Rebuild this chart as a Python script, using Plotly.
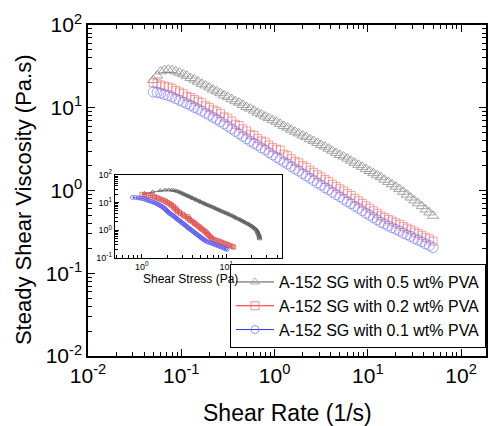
import plotly.graph_objects as go

# ---------------- data ----------------
shear_rate = [0.0501, 0.0550, 0.0603, 0.0661, 0.0724, 0.0794, 0.0871, 0.0955, 0.105, 0.115,
              0.126, 0.138, 0.151, 0.166, 0.182, 0.200, 0.219, 0.240, 0.263, 0.288,
              0.316, 0.347, 0.380, 0.417, 0.457, 0.501, 0.550, 0.603, 0.661, 0.724,
              0.794, 0.871, 0.955, 1.05, 1.15, 1.26, 1.38, 1.51, 1.66, 1.82,
              2.00, 2.19, 2.40, 2.63, 2.88, 3.16, 3.47, 3.80, 4.17, 4.57,
              5.01, 5.50, 6.03, 6.61, 7.24, 7.94, 8.71, 9.55, 10.5, 11.5,
              12.6, 13.8, 15.1, 16.6, 18.2, 20.0, 21.9, 24.0, 26.3, 28.8,
              31.6, 34.7, 38.0, 41.7, 45.7, 50.1]

visc_05 = [21.6, 24.5, 27.5, 28.5, 28.8, 28.5, 27.5, 26.6, 25.4, 24.3,
           22.9, 21.9, 20.7, 19.5, 18.6, 17.6, 16.6, 15.8, 15.0, 14.1,
           13.5, 12.7, 12.0, 11.5, 10.8, 10.2, 9.77, 9.23, 8.71, 8.32,
           7.85, 7.50, 7.08, 6.76, 6.38, 6.03, 5.75, 5.43, 5.13, 4.90,
           4.62, 4.42, 4.17, 3.98, 3.76, 3.55, 3.39, 3.20, 3.02, 2.85,
           2.69, 2.57, 2.43, 2.29, 2.16, 2.04, 1.93, 1.82, 1.72, 1.62,
           1.53, 1.45, 1.35, 1.27, 1.19, 1.11, 1.04, 0.966, 0.891, 0.822,
           0.759, 0.700, 0.646, 0.589, 0.543, 0.495]

visc_02 = [20.0, 19.5, 18.8, 18.2, 17.8, 17.2, 16.2, 15.5, 14.8, 13.8,
           13.3, 12.6, 12.0, 11.5, 10.6, 10.1, 9.44, 9.02, 8.51, 7.76,
           7.50, 6.92, 6.31, 6.10, 5.56, 5.25, 4.79, 4.62, 4.27, 3.98,
           3.85, 3.55, 3.31, 3.16, 3.09, 2.75, 2.63, 2.43, 2.26, 2.16,
           2.00, 1.91, 1.76, 1.66, 1.55, 1.46, 1.36, 1.29, 1.19, 1.12,
           1.05, 0.989, 0.923, 0.871, 0.804, 0.750, 0.700, 0.653, 0.610, 0.569,
           0.531, 0.495, 0.473, 0.447, 0.427, 0.407, 0.389, 0.367, 0.351, 0.335,
           0.316, 0.302, 0.288, 0.272, 0.260, 0.245]

visc_01 = [15.5, 15.3, 15.0, 14.5, 14.0, 13.5, 12.9, 12.3, 11.7, 11.2,
           10.7, 10.1, 9.66, 9.12, 8.61, 8.13, 7.67, 7.24, 6.76, 6.38,
           5.96, 5.56, 5.19, 4.84, 4.52, 4.22, 3.94, 3.72, 3.51, 3.27,
           3.09, 2.88, 2.69, 2.51, 2.37, 2.21, 2.09, 1.95, 1.82, 1.72,
           1.60, 1.50, 1.41, 1.32, 1.23, 1.16, 1.08, 1.02, 0.955, 0.891,
           0.841, 0.785, 0.733, 0.692, 0.646, 0.610, 0.569, 0.531, 0.501, 0.468,
           0.442, 0.412, 0.394, 0.372, 0.355, 0.339, 0.324, 0.305, 0.292, 0.279,
           0.263, 0.251, 0.240, 0.226, 0.216, 0.204]

series_names = ["A-152 SG with 0.5 wt% PVA",
                "A-152 SG with 0.2 wt% PVA",
                "A-152 SG with 0.1 wt% PVA"]

main_tick_vals = [0.01, 0.1, 1, 10, 100]
main_tick_text = ["10<sup>-2</sup>", "10<sup>-1</sup>", "10<sup>0</sup>",
                  "10<sup>1</sup>", "10<sup>2</sup>"]
inset_x_vals = [1, 10]
inset_x_text = ["10<sup>0</sup>", "10<sup>1</sup>"]
inset_y_vals = [0.1, 1, 10, 100]
inset_y_text = ["10<sup>-1</sup>", "10<sup>0</sup>", "10<sup>1</sup>", "10<sup>2</sup>"]

# ---------------- styles ----------------
FONT = "Liberation Sans, Arial, sans-serif"
styles = [
    dict(color="#808080", symbol="triangle-up-open", size=10, lw=0.7),
    dict(color="#ec6a6a", symbol="square-open", size=8, lw=0.6),
    dict(color="#6a6aff", symbol="circle-open", size=10, lw=0.6),
]
visc_all = [visc_05, visc_02, visc_01]

fig = go.Figure()

# main plot traces (markers)
for name, v, st in zip(series_names, visc_all, styles):
    fig.add_trace(go.Scatter(
        x=shear_rate, y=v, mode="markers", name=name, showlegend=False,
        marker=dict(symbol=st["symbol"], size=st["size"], color=st["color"],
                    line=dict(width=st["lw"], color=st["color"])),
        xaxis="x", yaxis="y"))

# legend entries (line + marker)
legend_line_colors = ["#555555", "#ff2020", "#3030ff"]
legend_marker_colors = ["#9a9a9a", "#ff7070", "#7a7aff"]
for name, st, lc, mc in zip(series_names, styles, legend_line_colors, legend_marker_colors):
    fig.add_trace(go.Scatter(
        x=[None], y=[None], mode="lines+markers", name=name,
        line=dict(color=lc, width=1),
        marker=dict(symbol=st["symbol"], size=8, color=mc,
                    line=dict(width=0.8, color=mc)),
        xaxis="x", yaxis="y"))

# inset: viscosity vs shear stress (stress = rate * viscosity)
inset_colors = ["#555555", "#e05050", "#5050ec"]
for name, v, st, ic in zip(series_names, visc_all, styles, inset_colors):
    stress = [r * e for r, e in zip(shear_rate, v)]
    fig.add_trace(go.Scatter(
        x=stress, y=v, mode="lines+markers", showlegend=False,
        line=dict(color=ic, width=0.8),
        marker=dict(symbol=st["symbol"], size=4, color=ic,
                    line=dict(width=0.7, color=ic)),
        xaxis="x2", yaxis="y2"))

def minor_vals(e0, e1):
    return [m * 10.0 ** e for e in range(e0, e1) for m in range(2, 10)]

main_axis_common = dict(
    type="log", showgrid=False, zeroline=False,
    showline=True, linecolor="black", linewidth=1.5, mirror="ticks",
    ticks="inside", ticklen=7, tickwidth=1.3, tickcolor="black",
    tickmode="array", tickvals=main_tick_vals, ticktext=main_tick_text,
    tickfont=dict(family=FONT, size=21, color="black"),
)

fig.update_layout(
    width=491, height=426,
    margin=dict(l=88, r=3, t=25, b=70),
    paper_bgcolor="white", plot_bgcolor="white",
    font=dict(family=FONT, color="black"),
    xaxis=dict(**main_axis_common, range=[-2, 2.267], domain=[0, 1],
               minor=dict(ticks="inside", ticklen=4, tickwidth=1, tickcolor="black",
                          tickmode="array", tickvals=minor_vals(-2, 3))),
    yaxis=dict(**main_axis_common, range=[-2, 2], domain=[0, 1],
               minor=dict(ticks="inside", ticklen=4, tickwidth=1, tickcolor="black",
                          tickmode="array", tickvals=minor_vals(-2, 2))),
    xaxis2=dict(type="log", domain=[0.0675, 0.4875], anchor="y2",
                range=[-0.318, 1.66], showgrid=False, zeroline=False,
                showline=True, linecolor="black", linewidth=1.2, mirror=True,
                ticks="inside", ticklen=4, tickwidth=1, tickcolor="black",
                tickmode="array", tickvals=inset_x_vals, ticktext=inset_x_text,
                tickfont=dict(family=FONT, size=9, color="black"),
                minor=dict(ticks="inside", ticklen=3, tickwidth=1, tickcolor="black",
                           tickmode="array", tickvals=minor_vals(-1, 2))),
    yaxis2=dict(type="log", domain=[0.296, 0.547], anchor="x2",
                range=[-1, 2], showgrid=False, zeroline=False,
                showline=True, linecolor="black", linewidth=1.2, mirror=True,
                ticks="inside", ticklen=4, tickwidth=1, tickcolor="black",
                tickmode="array", tickvals=inset_y_vals, ticktext=inset_y_text,
                tickfont=dict(family=FONT, size=9, color="black"),
                minor=dict(ticks="inside", ticklen=3, tickwidth=1, tickcolor="black",
                           tickmode="array", tickvals=minor_vals(-1, 2))),
    legend=dict(x=1, xanchor="right", y=0.024, yanchor="bottom",
                bgcolor="white", bordercolor="black", borderwidth=1,
                font=dict(family=FONT, size=16, color="black"),
                tracegroupgap=0, itemwidth=38),
    annotations=[
        dict(text="Shear Rate (1/s)", xref="paper", yref="paper", x=0.5, y=0,
             xanchor="center", yanchor="middle", yshift=-57, showarrow=False,
             font=dict(family=FONT, size=23, color="black")),
        dict(text="Steady Shear Viscosity (Pa.s)", xref="paper", yref="paper",
             x=0, y=0.471, xanchor="center", yanchor="middle", xshift=-65,
             textangle=-90, showarrow=False,
             font=dict(family=FONT, size=22, color="black")),
        dict(text="Shear Stress (Pa)", xref="paper", yref="paper",
             x=0.257, y=0.296, xanchor="center", yanchor="middle", yshift=-21,
             showarrow=False, font=dict(family=FONT, size=12, color="black")),
    ],
)

fig.write_html("out.html")
